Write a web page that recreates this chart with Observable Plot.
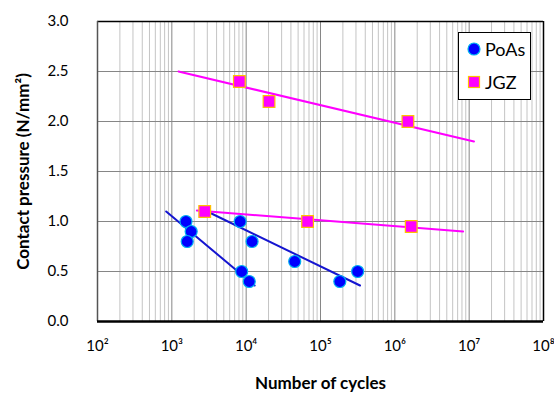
<!DOCTYPE html>
<html>
<head>
<meta charset="utf-8">
<script src="https://cdn.jsdelivr.net/npm/d3@7"></script>
<script src="https://cdn.jsdelivr.net/npm/@observablehq/plot@0.6"></script>
<style>
  html, body { margin: 0; padding: 0; background: #fff; }
  #wrap { position: relative; width: 554px; height: 394px; font-family: Lato, "Open Sans", sans-serif; }
  #legend { position: absolute; left: 458px; top: 32px; width: 73px; height: 68px; background: #fff; border: 1px solid #000; box-sizing: border-box; font-size: 18px; }
  #legend .row { position: absolute; left: 8px; display: flex; align-items: center; }
  #legend svg { margin-right: 4px; }
</style>
</head>
<body>
<div id="wrap">
  <div id="chart"></div>
  <div id="legend"></div>
</div>
<script>
// ---- Data ----
const poasCycles   = [1550, 1820, 1610, 8300, 12000, 8700, 11000, 45000, 182000, 316000];
const poasPressure = [1.0, 0.9, 0.8, 1.0, 0.8, 0.5, 0.4, 0.6, 0.4, 0.5];
const jgzCycles    = [8100, 20300, 1500000, 2770, 67000, 1660000];
const jgzPressure  = [2.4, 2.2, 2.0, 1.1, 1.0, 0.95];

// trend lines (end points)
const trendGroup    = ["P1", "P1", "P2", "P2", "J1", "J1", "J2", "J2"];
const trendSeries   = ["PoAs", "PoAs", "PoAs", "PoAs", "JGZ", "JGZ", "JGZ", "JGZ"];
const trendCycles   = [840, 13000, 3000, 340000, 1230, 11600000, 2170, 8300000];
const trendPressure = [1.1, 0.36, 1.1, 0.36, 2.5, 1.8, 1.11, 0.9];

const xTickValues = [1e2, 1e3, 1e4, 1e5, 1e6, 1e7, 1e8];
const xTickLabels = ["10²", "10³", "10⁴", "10⁵", "10⁶", "10⁷", "10⁸"];
const yTickValues = [0, 0.5, 1, 1.5, 2, 2.5, 3];

const seriesNames  = ["PoAs", "JGZ"];

// ---- Build tables ----
const poas = poasCycles.map((c, i) => ({cycles: c, pressure: poasPressure[i]}));
const jgz = jgzCycles.map((c, i) => ({cycles: c, pressure: jgzPressure[i]}));
const trends = trendCycles.map((c, i) => ({group: trendGroup[i], series: trendSeries[i], cycles: c, pressure: trendPressure[i]}));

const minorX = [];
for (let e = 2; e < 8; e++) for (let m = 2; m <= 9; m++) minorX.push(m * 10 ** e);

const font = "Lato, 'Open Sans', sans-serif";

const chart = Plot.plot({
  width: 554,
  height: 394,
  marginLeft: 97,
  marginRight: 11,
  marginTop: 21,
  marginBottom: 73,
  style: {fontFamily: font, fontSize: "15px", color: "#000", background: "#fff", overflow: "visible"},
  x: {type: "log", domain: [1e2, 1e8]},
  y: {domain: [0, 3]},
  marks: [
    Plot.ruleX(minorX, {stroke: "#c4c4c4", strokeWidth: 1}),
    Plot.ruleX(xTickValues.slice(1, -1), {stroke: "#868686", strokeWidth: 1}),
    Plot.ruleY(yTickValues.slice(1, -1), {stroke: "#868686", strokeWidth: 1}),
    Plot.ruleY([3], {stroke: "#000", strokeWidth: 1.5}),
    Plot.ruleX([1e8], {stroke: "#000", strokeWidth: 1.5}),
    Plot.ruleX([1e2], {stroke: "#555", strokeWidth: 1.5}),
    Plot.ruleY([0], {stroke: "#000", strokeWidth: 2.5}),
    Plot.axisX({ticks: xTickValues, tickSize: 0, tickPadding: 19, tickFormat: (d) => xTickLabels[xTickValues.indexOf(d)], label: null, fontSize: 15}),
    Plot.axisY({ticks: yTickValues, tickSize: 0, tickPadding: 29, tickFormat: d3.format(".1f"), label: null, fontSize: 15}),
    Plot.line(trends, {x: "cycles", y: "pressure", z: "group", stroke: (d) => d.series === "PoAs" ? "#1515d0" : "#ff00ff", strokeWidth: 2}),
    Plot.dot(poas, {x: "cycles", y: "pressure", r: 6, fill: "#0000ff", stroke: "#00b0f0", strokeWidth: 1.2}),
    Plot.dot(jgz, {x: "cycles", y: "pressure", symbol: "square", r: 6.6, fill: "#ff00ff", stroke: "#ffc000", strokeWidth: 1.2}),
    Plot.text(["Contact pressure (N/mm²)"], {frameAnchor: "left", textAnchor: "middle", lineAnchor: "middle", dx: -74, rotate: -90, fontWeight: "bold", fontSize: 17, text: (d) => d}),
    Plot.text(["Number of cycles"], {frameAnchor: "bottom", textAnchor: "middle", lineAnchor: "middle", dy: 62, fontWeight: "bold", fontSize: 17, text: (d) => d})
  ]
});
document.getElementById("chart").appendChild(chart);

// ---- Legend ----
const legend = document.getElementById("legend");
const legendMarkers = {
  PoAs: '<svg width="14" height="14"><circle cx="7" cy="7" r="6" fill="#0000ff" stroke="#00b0f0" stroke-width="1.2"/></svg>',
  JGZ: '<svg width="14" height="14"><rect x="1.5" y="1.5" width="11" height="11" fill="#ff00ff" stroke="#ffc000" stroke-width="1.2"/></svg>'
};
seriesNames.forEach((name, i) => {
  const row = document.createElement("div");
  row.className = "row";
  row.style.top = (i === 0 ? 5 : 38) + "px";
  row.innerHTML = legendMarkers[name] + "<span>" + name + "</span>";
  legend.appendChild(row);
});
</script>
</body>
</html>
